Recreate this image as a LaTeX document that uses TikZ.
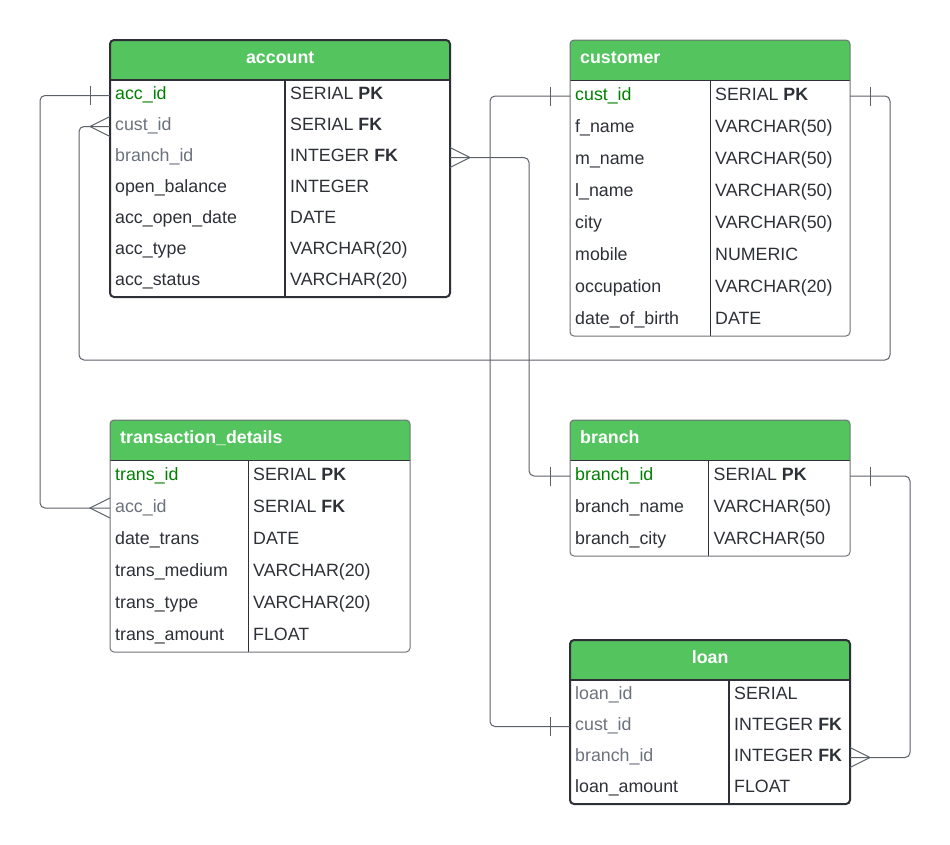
\documentclass[tikz,border=0pt]{standalone}
\usepackage{fontspec}
\setmainfont{Liberation Sans}
\usetikzlibrary{positioning}

\definecolor{hdrgreen}{RGB}{84,196,94}
\definecolor{pkgreen}{RGB}{0,128,0}
\definecolor{fkgray}{RGB}{108,113,126}
\definecolor{inkdark}{RGB}{45,48,54}
\definecolor{framegray}{RGB}{110,113,120}
\definecolor{relgray}{RGB}{92,96,104}

\tikzset{
  hdrbox/.style = {anchor = north west, inner sep = 0pt, outer sep = 0pt, minimum height = 40pt},
  rowbox/.style = {inner sep = 0pt, outer sep = 0pt},
  fieldtext/.style = {anchor = base west, inner sep = 0pt, xshift = 5pt, yshift = -4.2pt,
    text = inkdark, font = \fontsize{17.8}{20}\selectfont},
  titletext/.style = {anchor = base west, inner sep = 0pt, xshift = 10pt, yshift = -23.8pt,
    text = white, font = \fontsize{17.8}{20}\selectfont\bfseries},
  pkname/.style = {text = pkgreen},
  fkname/.style = {text = fkgray},
  stdname/.style = {},
  major frame/.style = {draw = inkdark, line width = 2pt},
  minor frame/.style = {draw = framegray, line width = 1pt},
  major line/.style = {draw = inkdark, line width = 2pt},
  minor line/.style = {draw = inkdark, line width = 0.9pt},
  major title/.style = {align = center},
  minor title/.style = {align = left},
  rel/.style = {draw = relgray, line width = 1pt, rounded corners = 5pt},
  relmark/.style = {draw = relgray, line width = 1pt}
}

% name, title, corner, width, divider, row height, look, rows
\newcommand{\dbtable}[8]{%
  \node[hdrbox, minimum width = #4] (#1-0) at (#3) {};
  \foreach \fname/\ftype/\fkind [count = \i] in {#8} {
    \pgfmathtruncatemacro{\j}{\i - 1}
    \node[rowbox, minimum width = #4, minimum height = #6, below = 0pt of #1-\j] (#1-\i) {};
    \node[fieldtext, \fkind] at (#1-\i.west) {\fname};
    \node[fieldtext, xshift = #5] at (#1-\i.west) {\ftype};
    \xdef\lastrow{\i}
  }
  \begin{scope}
    \clip[rounded corners = 4pt] (#1-0.north west) rectangle (#1-\lastrow.south east);
    \fill[hdrgreen] (#1-0.north west) rectangle (#1-0.south east);
  \end{scope}
  \pgfmathsetmacro{\titlew}{#4 - 20}
  \node[titletext, #7 title, text width = \titlew pt] (#1-title) at (#1-0.north west) {#2};
  \draw[#7 line] (#1-0.south west) -- (#1-0.south east);
  \draw[#7 line] ([xshift = #5]#1-1.north west) -- ([xshift = #5]#1-\lastrow.south west);
  \draw[#7 frame, rounded corners = 4pt] (#1-0.north west) rectangle (#1-\lastrow.south east);
}

% one bar and crow's foot ends; direction -1 = west side, 1 = east side
\newcommand{\barmark}[2]{\draw[relmark] ([xshift = #2*20pt, yshift = 9.5pt]#1) -- ++(0pt, -19pt);}
\newcommand{\crowfoot}[2]{\draw[relmark] ([yshift = 10pt]#1) -- ([xshift = #2*20pt]#1) -- ([yshift = -10pt]#1);}

\begin{document}
\begin{tikzpicture}[x = 1pt, y = -1pt]
  \useasboundingbox (0,0) rectangle (950,844);

  \dbtable{account}{account}{110,40}{340}{175}{31}{major}{
    acc\_id/SERIAL \textbf{PK}/pkname,
    cust\_id/SERIAL \textbf{FK}/fkname,
    branch\_id/INTEGER \textbf{FK}/fkname,
    open\_balance/INTEGER/stdname,
    acc\_open\_date/DATE/stdname,
    acc\_type/VARCHAR(20)/stdname,
    acc\_status/VARCHAR(20)/stdname}

  \dbtable{customer}{customer}{570,40}{280}{140}{32}{minor}{
    cust\_id/SERIAL \textbf{PK}/pkname,
    f\_name/VARCHAR(50)/stdname,
    m\_name/VARCHAR(50)/stdname,
    l\_name/VARCHAR(50)/stdname,
    city/VARCHAR(50)/stdname,
    mobile/NUMERIC/stdname,
    occupation/VARCHAR(20)/stdname,
    date\_of\_birth/DATE/stdname}

  \dbtable{trans}{transaction\_details}{110,420}{300}{138}{32}{minor}{
    trans\_id/SERIAL \textbf{PK}/pkname,
    acc\_id/SERIAL \textbf{FK}/fkname,
    date\_trans/DATE/stdname,
    trans\_medium/VARCHAR(20)/stdname,
    trans\_type/VARCHAR(20)/stdname,
    trans\_amount/FLOAT/stdname}

  \dbtable{branch}{branch}{570,420}{280}{138.5}{32}{minor}{
    branch\_id/SERIAL \textbf{PK}/pkname,
    branch\_name/VARCHAR(50)/stdname,
    branch\_city/VARCHAR(50/stdname}

  \dbtable{loan}{loan}{570,640}{280}{159}{31}{major}{
    loan\_id/SERIAL/fkname,
    cust\_id/INTEGER \textbf{FK}/fkname,
    branch\_id/INTEGER \textbf{FK}/fkname,
    loan\_amount/FLOAT/stdname}

  % relations
  \coordinate (loop corner) at (890,360);
  \draw[rel] (account-1.west) -- ++(-70,0) |- (trans-2.west);
  \draw[rel] (customer-1.east) -| (loop corner) -| ([xshift = -31pt]account-2.west) -- (account-2.west);
  \draw[rel] (customer-1.west) -- ++(-80,0) |- (loan-2.west);
  \draw[rel] (account-3.east) -- ++(79,0) |- (branch-1.west);
  \draw[rel] (branch-1.east) -- ++(60,0) |- (loan-3.east);

  \barmark{account-1.west}{-1}
  \crowfoot{trans-2.west}{-1}
  \barmark{customer-1.east}{1}
  \crowfoot{account-2.west}{-1}
  \barmark{customer-1.west}{-1}
  \barmark{loan-2.west}{-1}
  \crowfoot{account-3.east}{1}
  \barmark{branch-1.west}{-1}
  \barmark{branch-1.east}{1}
  \crowfoot{loan-3.east}{1}
\end{tikzpicture}
\end{document}
